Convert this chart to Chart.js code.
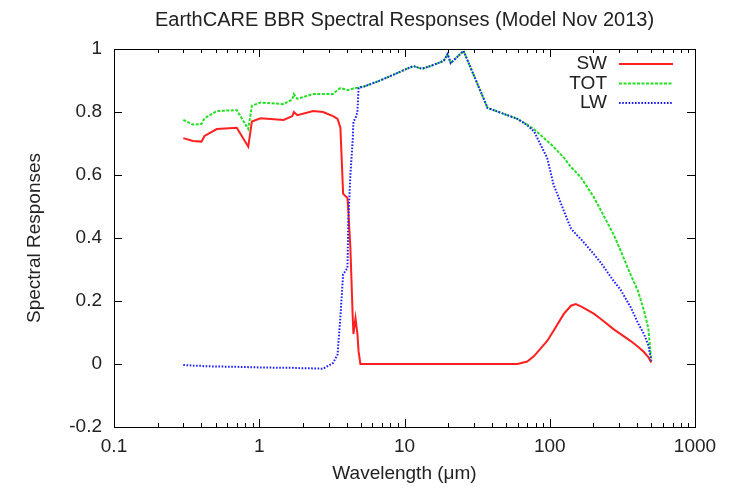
<!DOCTYPE html>
<html>
<head>
<meta charset="utf-8">
<script src="https://cdn.jsdelivr.net/npm/chart.js@4.4.1/dist/chart.umd.min.js"></script>
<style>
html,body{margin:0;padding:0;background:#ffffff;}
#wrap{width:731px;height:488px;}
</style>
</head>
<body>
<div id="wrap"><canvas id="c" width="731" height="488" style="width:731px;height:488px"></canvas></div>
<script>
// ---- data ----
const chartTitle = 'EarthCARE BBR Spectral Responses (Model Nov 2013)';
const xAxisTitle = 'Wavelength (\u03BCm)';
const yAxisTitle = 'Spectral Responses';
const seriesNames = ['SW', 'TOT', 'LW'];

const wavelengths = [
  0.30, 0.35, 0.40, 0.42, 0.51, 0.70, 0.84, 0.89, 1.02, 1.47,
  1.69, 1.73, 1.83, 2.35, 2.75, 3.22, 3.46, 3.62, 3.78, 4.05,
  4.10, 4.24, 4.40, 4.45, 4.60, 4.74, 4.83, 4.97, 5.2, 6.8,
  11.5, 13.2, 15.1, 18.6, 19.8, 20.8, 25.5, 37.3, 60, 70,
  78, 96, 106, 125, 140, 151, 165, 201, 226, 276,
  308, 363, 405, 445, 477, 500
];
const swValues = [
  0.717, 0.708, 0.706, 0.724, 0.746, 0.750, 0.690, 0.770, 0.780, 0.775,
  0.787, 0.800, 0.790, 0.803, 0.800, 0.787, 0.778, 0.750, 0.540, 0.527,
  0.490, 0.370, 0.150, 0.095, 0.146, 0.095, 0.040, 0.000, 0.000, 0.000,
  0.000, 0.000, 0.000, 0.000, 0.000, 0.000, 0.000, 0.000, 0.000, 0.008,
  0.025, 0.073, 0.105, 0.159, 0.185, 0.190, 0.182, 0.160, 0.142, 0.110,
  0.095, 0.072, 0.055, 0.038, 0.022, 0.005
];
const totValues = [
  0.775, 0.760, 0.762, 0.780, 0.803, 0.806, 0.746, 0.820, 0.830, 0.825,
  0.840, 0.857, 0.842, 0.857, 0.857, 0.857, 0.870, 0.876, 0.874, 0.870,
  0.870, 0.872, 0.874, 0.875, 0.876, 0.877, 0.878, 0.879, 0.880, 0.900,
  0.946, 0.937, 0.946, 0.962, 0.984, 0.955, 0.994, 0.813, 0.778, 0.760,
  0.745, 0.708, 0.690, 0.655, 0.625, 0.610, 0.590, 0.530, 0.486, 0.410,
  0.359, 0.280, 0.232, 0.170, 0.114, 0.010
];
const lwValues = [
  -0.003, -0.005, -0.006, -0.007, -0.008, -0.009, -0.010, -0.010, -0.011, -0.012,
  -0.012, -0.013, -0.013, -0.014, -0.015, 0.003, 0.030, 0.150, 0.285, 0.305,
  0.450, 0.600, 0.710, 0.770, 0.780, 0.800, 0.876, 0.878, 0.880, 0.900,
  0.946, 0.937, 0.946, 0.962, 0.984, 0.955, 0.994, 0.813, 0.778, 0.758,
  0.738, 0.654, 0.571, 0.486, 0.430, 0.413, 0.395, 0.349, 0.320, 0.263,
  0.235, 0.178, 0.130, 0.095, 0.060, 0.010
];
const xTickValues = [0.1, 1, 10, 100, 1000];
const yTickValues = [-0.2, 0, 0.2, 0.4, 0.6, 0.8, 1];

// ---- styles ----
const FONT = '"Liberation Sans", Arial, Helvetica, sans-serif';
const TEXT = '#222222';
const colors = ['#ff1f1f', '#22e022', '#1f1fff'];
const dashes = [[], [3, 1.5], [1.6, 1.6]];

Chart.defaults.font.family = FONT;
Chart.defaults.font.size = 19;
Chart.defaults.color = TEXT;

function pts(vals) { return wavelengths.map((w, i) => ({ x: w, y: vals[i] })); }

const framePlugin = {
  id: 'frame',
  afterDraw(chart) {
    const { ctx, chartArea: a, scales: { x, y } } = chart;
    ctx.save();
    ctx.strokeStyle = '#000';
    ctx.lineWidth = 1;
    ctx.setLineDash([]);
    ctx.beginPath();
    const major = 8, minor = 4;
    xTickValues.forEach(v => {
      const px = Math.round(x.getPixelForValue(v)) + 0.5;
      ctx.moveTo(px, a.bottom); ctx.lineTo(px, a.bottom - major);
      ctx.moveTo(px, a.top); ctx.lineTo(px, a.top + major);
    });
    for (let i = 0; i < xTickValues.length - 1; i++) {
      for (let k = 2; k < 10; k++) {
        const px = Math.round(x.getPixelForValue(xTickValues[i] * k)) + 0.5;
        ctx.moveTo(px, a.bottom); ctx.lineTo(px, a.bottom - minor);
        ctx.moveTo(px, a.top); ctx.lineTo(px, a.top + minor);
      }
    }
    yTickValues.forEach(v => {
      const py = Math.round(y.getPixelForValue(v)) + 0.5;
      ctx.moveTo(a.left, py); ctx.lineTo(a.left + major, py);
      ctx.moveTo(a.right, py); ctx.lineTo(a.right - major, py);
    });
    ctx.stroke();
    ctx.strokeRect(Math.round(a.left) + 0.5, Math.round(a.top) + 0.5,
                   Math.round(a.right - a.left), Math.round(a.bottom - a.top));

    // title
    ctx.fillStyle = TEXT;
    ctx.font = '20px ' + FONT;
    ctx.textAlign = 'center';
    ctx.textBaseline = 'middle';
    ctx.fillText(chartTitle, (a.left + a.right) / 2, 20);

    // legend (inside, top right)
    ctx.font = '19px ' + FONT;
    const textRight = a.right - 88, lineL = a.right - 76, lineR = a.right - 22;
    seriesNames.forEach((name, i) => {
      const yy = a.top + 15 + i * 19.5;
      ctx.fillStyle = TEXT;
      ctx.textAlign = 'right';
      ctx.fillText(name, textRight, yy);
      ctx.strokeStyle = colors[i];
      ctx.lineWidth = 2;
      ctx.setLineDash(dashes[i]);
      ctx.beginPath();
      ctx.moveTo(lineL, yy); ctx.lineTo(lineR, yy);
      ctx.stroke();
    });
    ctx.restore();
  }
};

new Chart(document.getElementById('c'), {
  type: 'line',
  data: {
    datasets: [
      { label: seriesNames[0], data: pts(swValues), borderColor: colors[0], borderWidth: 2, borderDash: dashes[0], order: 2 },
      { label: seriesNames[1], data: pts(totValues), borderColor: colors[1], borderWidth: 2, borderDash: dashes[1], order: 1 },
      { label: seriesNames[2], data: pts(lwValues), borderColor: colors[2], borderWidth: 2, borderDash: dashes[2], order: 0 }
    ]
  },
  options: {
    responsive: false,
    devicePixelRatio: 1,
    animation: false,
    parsing: true,
    elements: { point: { radius: 0 }, line: { tension: 0, fill: false } },
    layout: { padding: { top: 49, right: 36, left: 0, bottom: 0 } },
    plugins: { legend: { display: false }, tooltip: { enabled: false }, title: { display: false } },
    scales: {
      x: {
        type: 'logarithmic',
        min: 0.1, max: 1000,
        afterBuildTicks: s => { s.ticks = xTickValues.map(v => ({ value: v })); },
        afterFit: s => { s.height = 61; },
        ticks: { callback: v => String(v), autoSkip: false, maxRotation: 0, minRotation: 0, padding: 8, color: TEXT, font: { size: 19 } },
        grid: { display: false, drawTicks: false },
        border: { display: false },
        title: { display: true, text: xAxisTitle, color: TEXT, font: { size: 19 }, padding: { top: 0, bottom: 3 } }
      },
      y: {
        type: 'linear',
        min: -0.2, max: 1,
        afterBuildTicks: s => { s.ticks = yTickValues.map(v => ({ value: v })); },
        afterFit: s => { s.width = 114; },
        ticks: { callback: v => String(Math.round(v * 10) / 10), padding: 12, color: TEXT, font: { size: 19 } },
        grid: { display: false, drawTicks: false },
        border: { display: false },
        title: { display: true, text: yAxisTitle, color: TEXT, font: { size: 19 }, padding: { top: 23, bottom: 0 } }
      }
    }
  },
  plugins: [framePlugin]
});
</script>
</body>
</html>
